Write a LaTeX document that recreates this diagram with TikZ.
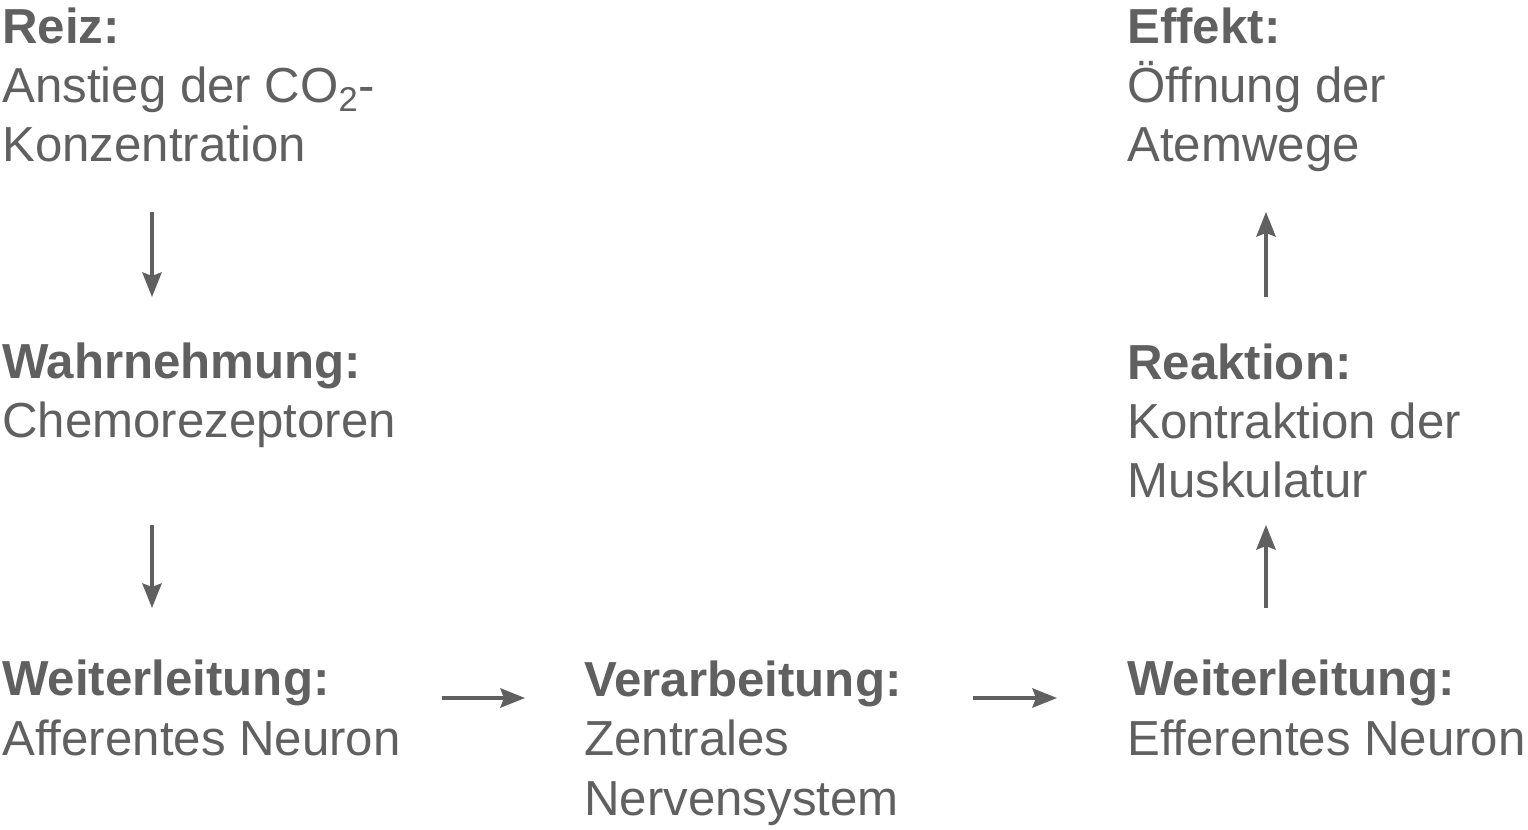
\documentclass[tikz,border=0pt]{standalone}
\usepackage{fontspec}
\setmainfont{Liberation Sans}
\usetikzlibrary{arrows.meta, positioning}
\definecolor{textgray}{HTML}{606060}
\begin{document}
\begin{tikzpicture}[
		x=0.02cm, y=-0.02cm,
		step box/.style	={ anchor=base west, inner sep=0pt, align=left,
			text=textgray, font=\fontsize{28}{33.6}\selectfont,
		},
		arr/.style	={ line width=1.8pt, draw=textgray,
			-{Stealth[length=14pt, width=11pt, inset=2pt]},
		},
	]
	\useasboundingbox (0,0) rectangle (1528,830);

	% left column
	\node [step box] (reiz) at (2,162) {\textbf{Reiz:}\\Anstieg der CO\textsubscript{2}-\\Konzentration};
	\node [step box] (wahr) at (2,438) {\textbf{Wahrnehmung:}\\Chemorezeptoren};
	\node [step box] (aff) at (2,755) {\textbf{Weiterleitung:}\\Afferentes Neuron};

	% middle and right column
	\node [step box] (zns) at (584,815) {\textbf{Verarbeitung:}\\Zentrales\\Nervensystem};
	\node [step box] (eff) at (1127,755) {\textbf{Weiterleitung:}\\Efferentes Neuron};
	\node [step box] (reak) at (1127,498) {\textbf{Reaktion:}\\Kontraktion der\\Muskulatur};
	\node [step box] (effekt) at (1127,162) {\textbf{Effekt:}\\Öffnung der\\Atemwege};

	% arrows
	\coordinate (a1) at (152,212); \coordinate (a2) at (152,297);
	\coordinate (a3) at (152,525); \coordinate (a4) at (152,608);
	\coordinate (h1) at (442,698); \coordinate (h2) at (525,698);
	\coordinate (h3) at (973,698); \coordinate (h4) at (1057,698);
	\coordinate (r1) at (1266,608); \coordinate (r2) at (1266,525);
	\coordinate (r3) at (1266,297); \coordinate (r4) at (1266,212);
	\draw [arr] (a1) -- (a2);
	\draw [arr] (a3) -- (a4);
	\draw [arr] (h1) -- (h2);
	\draw [arr] (h3) -- (h4);
	\draw [arr] (r1) -- (r2);
	\draw [arr] (r3) -- (r4);
\end{tikzpicture}
\end{document}
